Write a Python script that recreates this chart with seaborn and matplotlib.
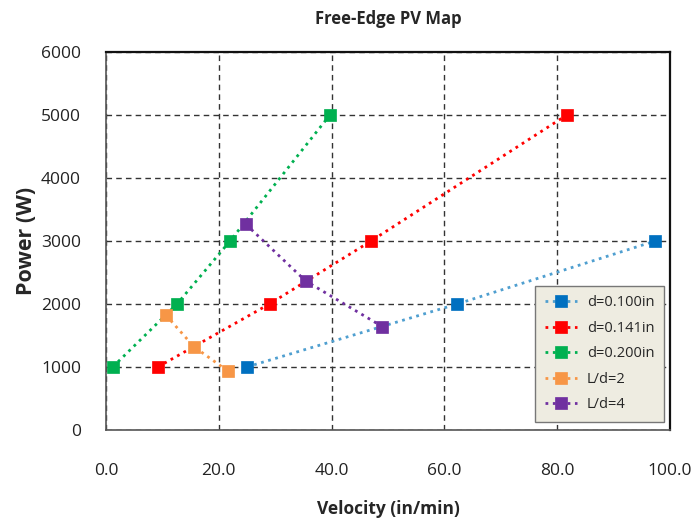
import numpy as np
import matplotlib
matplotlib.use("Agg")
import matplotlib.pyplot as plt
import seaborn as sns
import pandas as pd

# values
d100_vel = [25.0, 62.3, 97.4]
d100_pow = [1000, 2000, 3000]
d141_vel = [9.2, 29.0, 47.0, 81.7]
d141_pow = [1000, 2000, 3000, 5000]
d200_vel = [1.2, 12.6, 22.0, 39.7]
d200_pow = [1000, 2000, 3000, 5000]
ld2_vel = [10.6, 15.6, 21.6]
ld2_pow = [1825, 1320, 935]
ld4_vel = [24.8, 35.4, 49.0]
ld4_pow = [3265, 2365, 1640]

series = [
    ("d=0.100in", d100_vel, d100_pow, "#0070C0", "#4F9FD0"),
    ("d=0.141in", d141_vel, d141_pow, "#FF0000", "#FF0000"),
    ("d=0.200in", d200_vel, d200_pow, "#00B050", "#00B050"),
    ("L/d=2", ld2_vel, ld2_pow, "#F79646", "#F79646"),
    ("L/d=4", ld4_vel, ld4_pow, "#7030A0", "#7030A0"),
]

sns.set_style("white")
plt.rcParams['font.family'] = ['Open Sans', 'DejaVu Sans']

fig = plt.figure(figsize=(6.95, 5.23), dpi=100)
ax = fig.add_axes([0.1525, 0.178, 0.8115, 0.7225])

for name, vel, pw, mcol, lcol in series:
    df = pd.DataFrame({'vel': vel, 'pow': pw})
    sns.lineplot(data=df, x='vel', y='pow', sort=False, ax=ax, color=lcol,
                 linestyle=':', linewidth=2.0, marker='s', markersize=8,
                 markerfacecolor=mcol, markeredgecolor=mcol, markeredgewidth=0.5,
                 label=name)

ax.set_xlim(0, 100)
ax.set_ylim(0, 6000)
ax.set_xticks(np.arange(0, 101, 20))
ax.set_xticklabels([f"{v:.1f}" for v in np.arange(0, 101, 20)])
ax.set_yticks(np.arange(0, 6001, 1000))
ax.tick_params(axis='x', length=0, pad=24, labelsize=12.5, colors='#222222')
ax.tick_params(axis='y', length=0, pad=18, labelsize=12.5, colors='#222222')

ax.grid(True, linestyle=(0, (4, 3)), color='#333333', linewidth=1.0)
for side in ['top', 'right']:
    ax.spines[side].set_color('#111111')
    ax.spines[side].set_linewidth(1.6)
for side in ['left', 'bottom']:
    ax.spines[side].set_color('#555555')
    ax.spines[side].set_linewidth(1.2)

ax.set_title("Free-Edge PV Map", fontsize=12, fontweight='bold', pad=20)
ax.set_xlabel("Velocity (in/min)", fontsize=12.5, fontweight='bold', labelpad=15)
ax.set_ylabel("Power (W)", fontsize=15.5, fontweight='bold', labelpad=3)

leg = ax.legend(loc='lower right', bbox_to_anchor=(0.989, 0.021), borderaxespad=0,
                frameon=True, fancybox=False, fontsize=10.5, handlelength=2.2,
                labelspacing=0.72, borderpad=0.65, handletextpad=0.7)
leg.get_frame().set_facecolor('#EEECE1')
leg.get_frame().set_edgecolor('#777777')
leg.get_frame().set_alpha(1)

plt.savefig("out.png", dpi=100)
